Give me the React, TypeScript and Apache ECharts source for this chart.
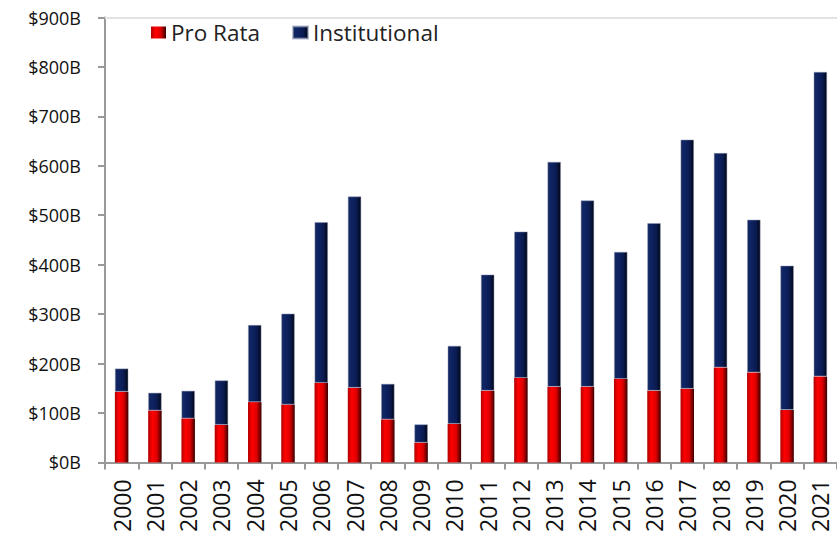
import React, { useEffect, useRef } from "react";
import * as echarts from "echarts";

const years = ["2000","2001","2002","2003","2004","2005","2006","2007","2008","2009","2010","2011","2012","2013","2014","2015","2016","2017","2018","2019","2020","2021"];
const proRata = [143, 105, 89, 76, 122, 117, 161, 151, 87, 40, 78, 145, 171, 153, 153, 169, 145, 149, 192, 182, 106, 174];
const institutional = [47, 36, 56, 90, 156, 184, 325, 387, 72, 37, 158, 235, 296, 455, 377, 257, 339, 504, 434, 309, 292, 616];
const yTicks = [0, 100, 200, 300, 400, 500, 600, 700, 800, 900];

const FONT = "'Open Sans', sans-serif";

export default function App() {
  const ref = useRef<HTMLDivElement>(null);
  useEffect(() => {
    if (!ref.current) return;
    const chart = echarts.init(ref.current, null, { renderer: "svg" });
    const redGrad = new echarts.graphic.LinearGradient(0, 0, 1, 0, [
      { offset: 0, color: "#b00000" },
      { offset: 0.3, color: "#ff0000" },
      { offset: 0.65, color: "#dd0000" },
      { offset: 1, color: "#3a0000" },
    ]);
    const navyGrad = new echarts.graphic.LinearGradient(0, 0, 1, 0, [
      { offset: 0, color: "#13275f" },
      { offset: 0.3, color: "#0e2363" },
      { offset: 0.7, color: "#0a1a4e" },
      { offset: 1, color: "#000512" },
    ]);
    chart.setOption({
      animation: false,
      grid: { left: 105, top: 17.5, width: 738, height: 445.5, containLabel: false },
      legend: {
        left: 151,
        top: 21,
        padding: 0,
        itemWidth: 15,
        itemHeight: 12,
        itemGap: 32,
        icon: "rect",
        textStyle: { fontFamily: FONT, fontSize: 22.5, color: "#222" },
        data: ["Pro Rata", "Institutional"],
      },
      xAxis: [
        {
          type: "category",
          data: years,
          position: "bottom",
          axisLine: { lineStyle: { color: "#999", width: 2 } },
          axisTick: { show: true, length: 7, alignWithLabel: false, lineStyle: { color: "#999", width: 2 } },
          axisLabel: { rotate: 90, margin: 17, fontFamily: FONT, fontSize: 23, color: "#111", interval: 0 },
        },
        {
          type: "category",
          data: years,
          position: "top",
          axisLine: { lineStyle: { color: "#e2e2e2", width: 2 } },
          axisTick: { show: false },
          axisLabel: { show: false },
        },
      ],
      yAxis: {
        type: "value",
        min: 0,
        max: 900,
        interval: 100,
        axisLine: { show: true, lineStyle: { color: "#999", width: 2 } },
        axisTick: { show: true, length: 7, lineStyle: { color: "#999", width: 2 } },
        splitLine: { show: false },
        axisLabel: {
          margin: 24,
          fontFamily: FONT,
          fontSize: 18,
          color: "#111",
          formatter: (v: number) => (yTicks.includes(v) ? "$" + v + "B" : ""),
        },
      },
      series: [
        {
          name: "Pro Rata",
          type: "bar",
          stack: "total",
          data: proRata,
          barWidth: 13.5,
          itemStyle: { color: redGrad },
        },
        {
          name: "Institutional",
          type: "bar",
          stack: "total",
          data: institutional,
          barWidth: 13.5,
          itemStyle: { color: navyGrad, borderColor: "rgba(140,150,180,0.6)", borderWidth: 0.8 },
        },
      ],
    });
    return () => chart.dispose();
  }, []);
  return (
    <div
      ref={ref}
      style={{ position: "fixed", left: 0, top: 0, width: 837, height: 535, background: "#fff" }}
    />
  );
}
